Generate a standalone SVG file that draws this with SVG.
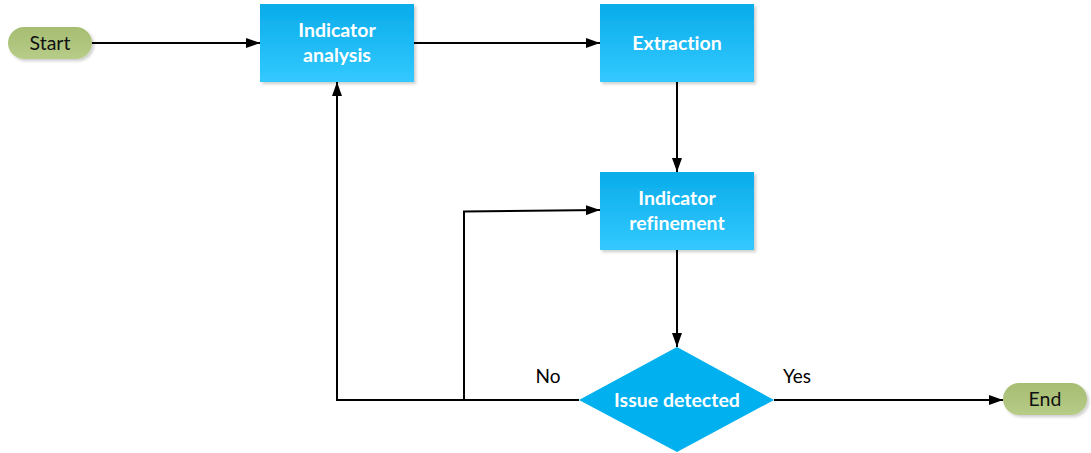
<svg xmlns="http://www.w3.org/2000/svg" width="1091" height="453" viewBox="0 0 1091 453">
  <defs>
    <linearGradient id="boxFill" x1="0" y1="0" x2="0" y2="1">
      <stop offset="0" stop-color="#09ACEA"/>
      <stop offset="1" stop-color="#33C9FF"/>
    </linearGradient>
    <linearGradient id="pillFill" x1="0" y1="0" x2="0" y2="1">
      <stop offset="0" stop-color="#A6BD72"/>
      <stop offset="1" stop-color="#B7CC88"/>
    </linearGradient>
    <filter id="shadow" x="-10%" y="-10%" width="130%" height="140%">
      <feDropShadow dx="2" dy="2" stdDeviation="1.5" flood-color="#000" flood-opacity="0.2"/>
    </filter>
    <marker id="arrow" viewBox="0 0 14 10" refX="14" refY="5" markerWidth="14" markerHeight="10" markerUnits="userSpaceOnUse" orient="auto">
      <path d="M0,0 L14,5 L0,10 Z" fill="#000"/>
    </marker>
  </defs>
  <style>
    text { font-variant-ligatures: none; }
    .box { fill: url(#boxFill); filter: url(#shadow); }
    .pill { fill: url(#pillFill); filter: url(#shadow); }
    .label { font-family: Lato, "Open Sans", sans-serif; font-size: 19.5px; font-weight: bold; fill: #fff; text-anchor: middle; }
    .term { font-family: Lato, "Open Sans", sans-serif; font-size: 19.5px; fill: #111; text-anchor: middle; }
    .edge { fill: none; stroke: #000; stroke-width: 2; }
    .edgeLabel { font-family: Lato, "Open Sans", sans-serif; font-size: 19px; fill: #000; text-anchor: middle; }
  </style>

  <g id="connectors">
    <line class="edge" x1="92" y1="43" x2="260" y2="43" marker-end="url(#arrow)"/>
    <line class="edge" x1="414" y1="43" x2="600" y2="43" marker-end="url(#arrow)"/>
    <line class="edge" x1="677" y1="82" x2="677" y2="172" marker-end="url(#arrow)"/>
    <line class="edge" x1="677" y1="250" x2="677" y2="347" marker-end="url(#arrow)"/>
    <polyline class="edge" points="579,400 337,400 337,82" marker-end="url(#arrow)"/>
    <polyline class="edge" points="464,400 464,211.5 600,210" marker-end="url(#arrow)"/>
    <line class="edge" x1="774" y1="400" x2="1003" y2="400" marker-end="url(#arrow)"/>
    <text class="edgeLabel" x="548" y="383">No</text>
    <text class="edgeLabel" x="797" y="383">Yes</text>
  </g>

  <g id="start">
    <rect class="pill" x="8" y="27" width="84" height="32" rx="16"/>
    <text class="term" x="50" y="50">Start</text>
  </g>

  <g id="indicator-analysis">
    <rect class="box" x="260" y="4" width="154" height="78"/>
    <text class="label" x="337" y="37">Indicator</text>
    <text class="label" x="337" y="62">analysis</text>
  </g>

  <g id="extraction">
    <rect class="box" x="600" y="4" width="154" height="78"/>
    <text class="label" x="677" y="50">Extraction</text>
  </g>

  <g id="indicator-refinement">
    <rect class="box" x="600" y="172" width="154" height="78"/>
    <text class="label" x="677" y="205">Indicator</text>
    <text class="label" x="677" y="230">refinement</text>
  </g>

  <g id="issue-detected">
    <polygon points="677,347 774,400 677,452 579,400" fill="#00B0EF"/>
    <text class="label" x="677" y="407">Issue detected</text>
  </g>

  <g id="end">
    <rect class="pill" x="1003" y="383" width="84" height="32" rx="16"/>
    <text class="term" x="1045" y="406">End</text>
  </g>
</svg>
